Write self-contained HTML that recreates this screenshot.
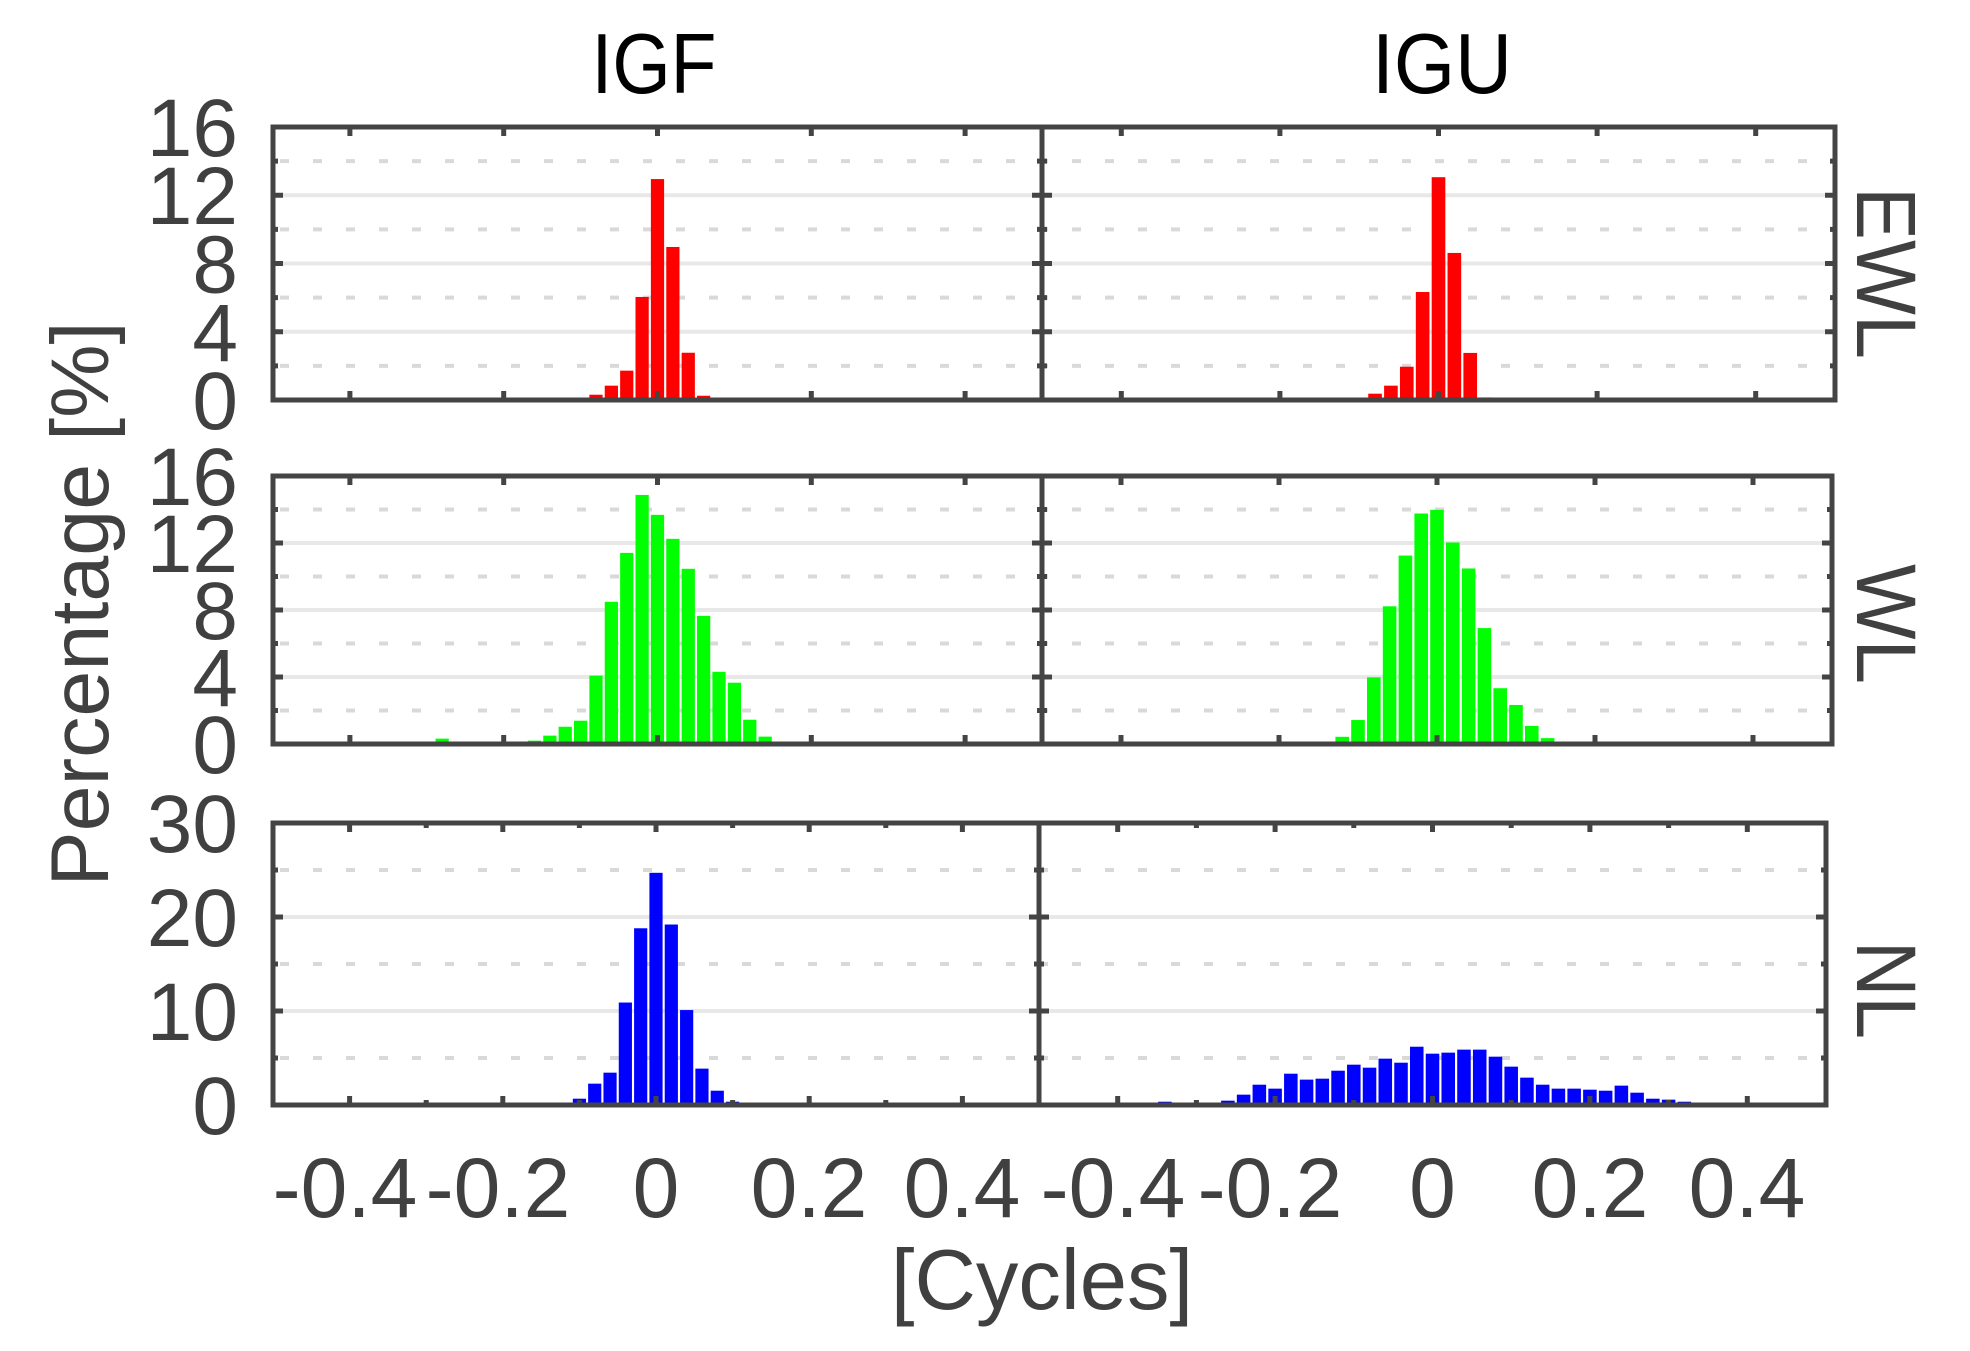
<!DOCTYPE html>
<html><head><meta charset="utf-8"><style>html,body{margin:0;padding:0;background:#fff}svg{display:block}</style></head>
<body>
<svg width="1970" height="1351" viewBox="0 0 1970 1351" xmlns="http://www.w3.org/2000/svg" font-family="'Liberation Sans', Arial, sans-serif">
<rect width="1970" height="1351" fill="#fff"/>
<g stroke="#e8e8e8" stroke-width="4">
<path d="M273 331.75H1835M273 263.5H1835M273 195.25H1835"/>
<path d="M273 677H1832M273 610H1832M273 543H1832"/>
<path d="M273 1011H1826M273 917H1826"/>
</g>
<g stroke="#d9d9d9" stroke-width="4" stroke-dasharray="9 24">
<path d="M280 365.9H1835M280 297.6H1835M280 229.4H1835M280 161.1H1835"/>
<path d="M280 710.5H1832M280 643.5H1832M280 576.5H1832M280 509.5H1832"/>
<path d="M280 1058H1826M280 964H1826M280 870H1826"/>
</g>
<g fill="#ff0000" transform="translate(657.5,400) scale(7.69,-17.06)">
<rect x="-8.86" width="1.72" height=".31"/><rect x="-6.86" width="1.72" height=".84"/><rect x="-4.86" width="1.72" height="1.72"/><rect x="-2.86" width="1.72" height="6.04"/><rect x="-0.86" width="1.72" height="12.95"/><rect x="1.14" width="1.72" height="8.97"/><rect x="3.14" width="1.72" height="2.77"/><rect x="5.14" width="1.72" height=".25"/>
</g>
<g fill="#ff0000" transform="translate(1438.5,400) scale(7.93,-17.06)">
<rect x="-8.86" width="1.72" height=".37"/><rect x="-6.86" width="1.72" height=".84"/><rect x="-4.86" width="1.72" height="1.95"/><rect x="-2.86" width="1.72" height="6.33"/><rect x="-0.86" width="1.72" height="13.06"/><rect x="1.14" width="1.72" height="8.62"/><rect x="3.14" width="1.72" height="2.76"/><rect x="5.14" width="1.72" height=".15"/>
</g>
<g fill="#00ff00" transform="translate(657.5,744) scale(7.69,-16.75)">
<rect x="-28.86" width="1.72" height=".32"/><rect x="-16.86" width="1.72" height=".2"/><rect x="-14.86" width="1.72" height=".5"/><rect x="-12.86" width="1.72" height="1.03"/><rect x="-10.86" width="1.72" height="1.39"/><rect x="-8.86" width="1.72" height="4.08"/><rect x="-6.86" width="1.72" height="8.49"/><rect x="-4.86" width="1.72" height="11.41"/><rect x="-2.86" width="1.72" height="14.87"/><rect x="-0.86" width="1.72" height="13.68"/><rect x="1.14" width="1.72" height="12.25"/><rect x="3.14" width="1.72" height="10.46"/><rect x="5.14" width="1.72" height="7.65"/><rect x="7.14" width="1.72" height="4.31"/><rect x="9.14" width="1.72" height="3.66"/><rect x="11.14" width="1.72" height="1.45"/><rect x="13.14" width="1.72" height=".44"/>
</g>
<g fill="#00ff00" transform="translate(1437,744) scale(7.9,-16.75)">
<rect x="-12.86" width="1.72" height=".43"/><rect x="-10.86" width="1.72" height="1.43"/><rect x="-8.86" width="1.72" height="3.98"/><rect x="-6.86" width="1.72" height="8.22"/><rect x="-4.86" width="1.72" height="11.25"/><rect x="-2.86" width="1.72" height="13.76"/><rect x="-0.86" width="1.72" height="13.98"/><rect x="1.14" width="1.72" height="12.03"/><rect x="3.14" width="1.72" height="10.48"/><rect x="5.14" width="1.72" height="6.92"/><rect x="7.14" width="1.72" height="3.33"/><rect x="9.14" width="1.72" height="2.33"/><rect x="11.14" width="1.72" height="1.08"/><rect x="13.14" width="1.72" height=".35"/>
</g>
<g fill="#0000ff" transform="translate(656,1105) scale(7.66,-9.4)">
<rect x="-10.86" width="1.72" height=".67"/><rect x="-8.86" width="1.72" height="2.27"/><rect x="-6.86" width="1.72" height="3.44"/><rect x="-4.86" width="1.72" height="10.9"/><rect x="-2.86" width="1.72" height="18.8"/><rect x="-0.86" width="1.72" height="24.7"/><rect x="1.14" width="1.72" height="19.2"/><rect x="3.14" width="1.72" height="10.1"/><rect x="5.14" width="1.72" height="3.87"/><rect x="7.14" width="1.72" height="1.52"/><rect x="9.14" width="1.72" height=".35"/><rect x="11.14" width="1.72" height=".15"/><rect x="23.14" width="1.72" height=".1"/>
</g>
<g fill="#0000ff" transform="translate(1432.5,1105) scale(7.87,-9.4)">
<rect x="-34.86" width="1.72" height=".35"/><rect x="-28.86" width="1.72" height=".2"/><rect x="-26.86" width="1.72" height=".46"/><rect x="-24.86" width="1.72" height="1.1"/><rect x="-22.86" width="1.72" height="2.16"/><rect x="-20.86" width="1.72" height="1.74"/><rect x="-18.86" width="1.72" height="3.33"/><rect x="-16.86" width="1.72" height="2.7"/><rect x="-14.86" width="1.72" height="2.8"/><rect x="-12.86" width="1.72" height="3.65"/><rect x="-10.86" width="1.72" height="4.29"/><rect x="-8.86" width="1.72" height="3.97"/><rect x="-6.86" width="1.72" height="4.93"/><rect x="-4.86" width="1.72" height="4.5"/><rect x="-2.86" width="1.72" height="6.2"/><rect x="-0.86" width="1.72" height="5.46"/><rect x="1.14" width="1.72" height="5.57"/><rect x="3.14" width="1.72" height="5.89"/><rect x="5.14" width="1.72" height="5.89"/><rect x="7.14" width="1.72" height="5.14"/><rect x="9.14" width="1.72" height="4.08"/><rect x="11.14" width="1.72" height="2.91"/><rect x="13.14" width="1.72" height="2.16"/><rect x="15.14" width="1.72" height="1.74"/><rect x="17.14" width="1.72" height="1.74"/><rect x="19.14" width="1.72" height="1.63"/><rect x="21.14" width="1.72" height="1.52"/><rect x="23.14" width="1.72" height="2.06"/><rect x="25.14" width="1.72" height="1.31"/><rect x="27.14" width="1.72" height=".67"/><rect x="29.14" width="1.72" height=".57"/><rect x="31.14" width="1.72" height=".35"/>
</g>
<g fill="none" stroke="#444" stroke-width="5">
<rect x="273" y="127" width="769" height="273"/>
<rect x="1042" y="127" width="793" height="273"/>
<rect x="273" y="476" width="769" height="268"/>
<rect x="1042" y="476" width="790" height="268"/>
<rect x="273" y="823" width="766" height="282"/>
<rect x="1039" y="823" width="787" height="282"/>
</g>
<g fill="none" stroke="#444" stroke-width="5">
<path d="M349.9 400v-9M503.7 400v-9M657.5 400v-9M811.3 400v-9M965.1 400v-9M349.9 127v9M503.7 127v9M657.5 127v9M811.3 127v9M965.1 127v9"/>
<path d="M1121.3 400v-9M1279.9 400v-9M1438.5 400v-9M1597.1 400v-9M1755.7 400v-9M1121.3 127v9M1279.9 127v9M1438.5 127v9M1597.1 127v9M1755.7 127v9"/>
<path d="M273 331.75h10M273 263.5h10M273 195.25h10M273 365.9h5M273 297.6h5M273 229.4h5M273 161.1h5M1042 331.75h-10M1042 263.5h-10M1042 195.25h-10M1042 365.9h-5M1042 297.6h-5M1042 229.4h-5M1042 161.1h-5M1042 331.75h10M1042 263.5h10M1042 195.25h10M1042 365.9h5M1042 297.6h5M1042 229.4h5M1042 161.1h5M1835 331.75h-10M1835 263.5h-10M1835 195.25h-10M1835 365.9h-5M1835 297.6h-5M1835 229.4h-5M1835 161.1h-5"/>
<path d="M349.9 744v-9M503.7 744v-9M657.5 744v-9M811.3 744v-9M965.1 744v-9M349.9 476v9M503.7 476v9M657.5 476v9M811.3 476v9M965.1 476v9"/>
<path d="M1121 744v-9M1279 744v-9M1437 744v-9M1595 744v-9M1753 744v-9M1121 476v9M1279 476v9M1437 476v9M1595 476v9M1753 476v9"/>
<path d="M273 677h10M273 610h10M273 543h10M273 710.5h5M273 643.5h5M273 576.5h5M273 509.5h5M1042 677h-10M1042 610h-10M1042 543h-10M1042 710.5h-5M1042 643.5h-5M1042 576.5h-5M1042 509.5h-5M1042 677h10M1042 610h10M1042 543h10M1042 710.5h5M1042 643.5h5M1042 576.5h5M1042 509.5h5M1832 677h-10M1832 610h-10M1832 543h-10M1832 710.5h-5M1832 643.5h-5M1832 576.5h-5M1832 509.5h-5"/>
<path d="M349.6 1105v-9M502.8 1105v-9M656 1105v-9M809.2 1105v-9M962.4 1105v-9M349.6 823v9M502.8 823v9M656 823v9M809.2 823v9M962.4 823v9M426.2 1105v-5M579.4 1105v-5M732.6 1105v-5M885.8 1105v-5M426.2 823v5M579.4 823v5M732.6 823v5M885.8 823v5"/>
<path d="M1117.7 1105v-9M1275.1 1105v-9M1432.5 1105v-9M1589.9 1105v-9M1747.3 1105v-9M1117.7 823v9M1275.1 823v9M1432.5 823v9M1589.9 823v9M1747.3 823v9M1196.4 1105v-5M1353.8 1105v-5M1511.2 1105v-5M1668.6 1105v-5M1196.4 823v5M1353.8 823v5M1511.2 823v5M1668.6 823v5"/>
<path d="M273 1011h10M273 917h10M273 1058h5M273 964h5M273 870h5M1039 1011h-10M1039 917h-10M1039 1058h-5M1039 964h-5M1039 870h-5M1039 1011h10M1039 917h10M1039 1058h5M1039 964h5M1039 870h5M1826 1011h-10M1826 917h-10M1826 1058h-5M1826 964h-5M1826 870h-5"/>
</g>
<text x="654" y="93" font-size="85" text-anchor="middle" fill="#000" textLength="125" lengthAdjust="spacingAndGlyphs">IGF</text>
<text x="1442" y="93" font-size="85" text-anchor="middle" fill="#000" textLength="140" lengthAdjust="spacingAndGlyphs">IGU</text>
<g font-size="82" fill="#404040" text-anchor="end">
<text x="238" y="156">16</text><text x="238" y="224">12</text><text x="238" y="292.5">8</text><text x="238" y="361">4</text><text x="238" y="429">0</text>
<text x="238" y="505">16</text><text x="238" y="572">12</text><text x="238" y="639">8</text><text x="238" y="706">4</text><text x="238" y="773">0</text>
<text x="238" y="852">30</text><text x="238" y="946">20</text><text x="238" y="1040">10</text><text x="238" y="1134">0</text>
</g>
<g font-size="84" fill="#404040" text-anchor="middle">
<text x="345" y="1217">-0.4</text><text x="498" y="1217">-0.2</text><text x="656" y="1217">0</text><text x="809" y="1217">0.2</text><text x="962" y="1217">0.4</text>
<text x="1113" y="1217">-0.4</text><text x="1270" y="1217">-0.2</text><text x="1432.5" y="1217">0</text><text x="1590" y="1217">0.2</text><text x="1747" y="1217">0.4</text>
</g>
<text x="1042" y="1309" font-size="85" fill="#404040" text-anchor="middle">[Cycles]</text>
<text transform="translate(108,604) rotate(-90)" font-size="82" fill="#404040" text-anchor="middle" textLength="565" lengthAdjust="spacingAndGlyphs">Percentage [%]</text>
<g font-size="84" fill="#404040" text-anchor="middle">
<text transform="translate(1857,273) rotate(90)" textLength="172" lengthAdjust="spacingAndGlyphs">EWL</text>
<text transform="translate(1857,624) rotate(90)" textLength="120" lengthAdjust="spacingAndGlyphs">WL</text>
<text transform="translate(1857,990) rotate(90)" textLength="98" lengthAdjust="spacingAndGlyphs">NL</text>
</g>
</svg>
</body></html>
